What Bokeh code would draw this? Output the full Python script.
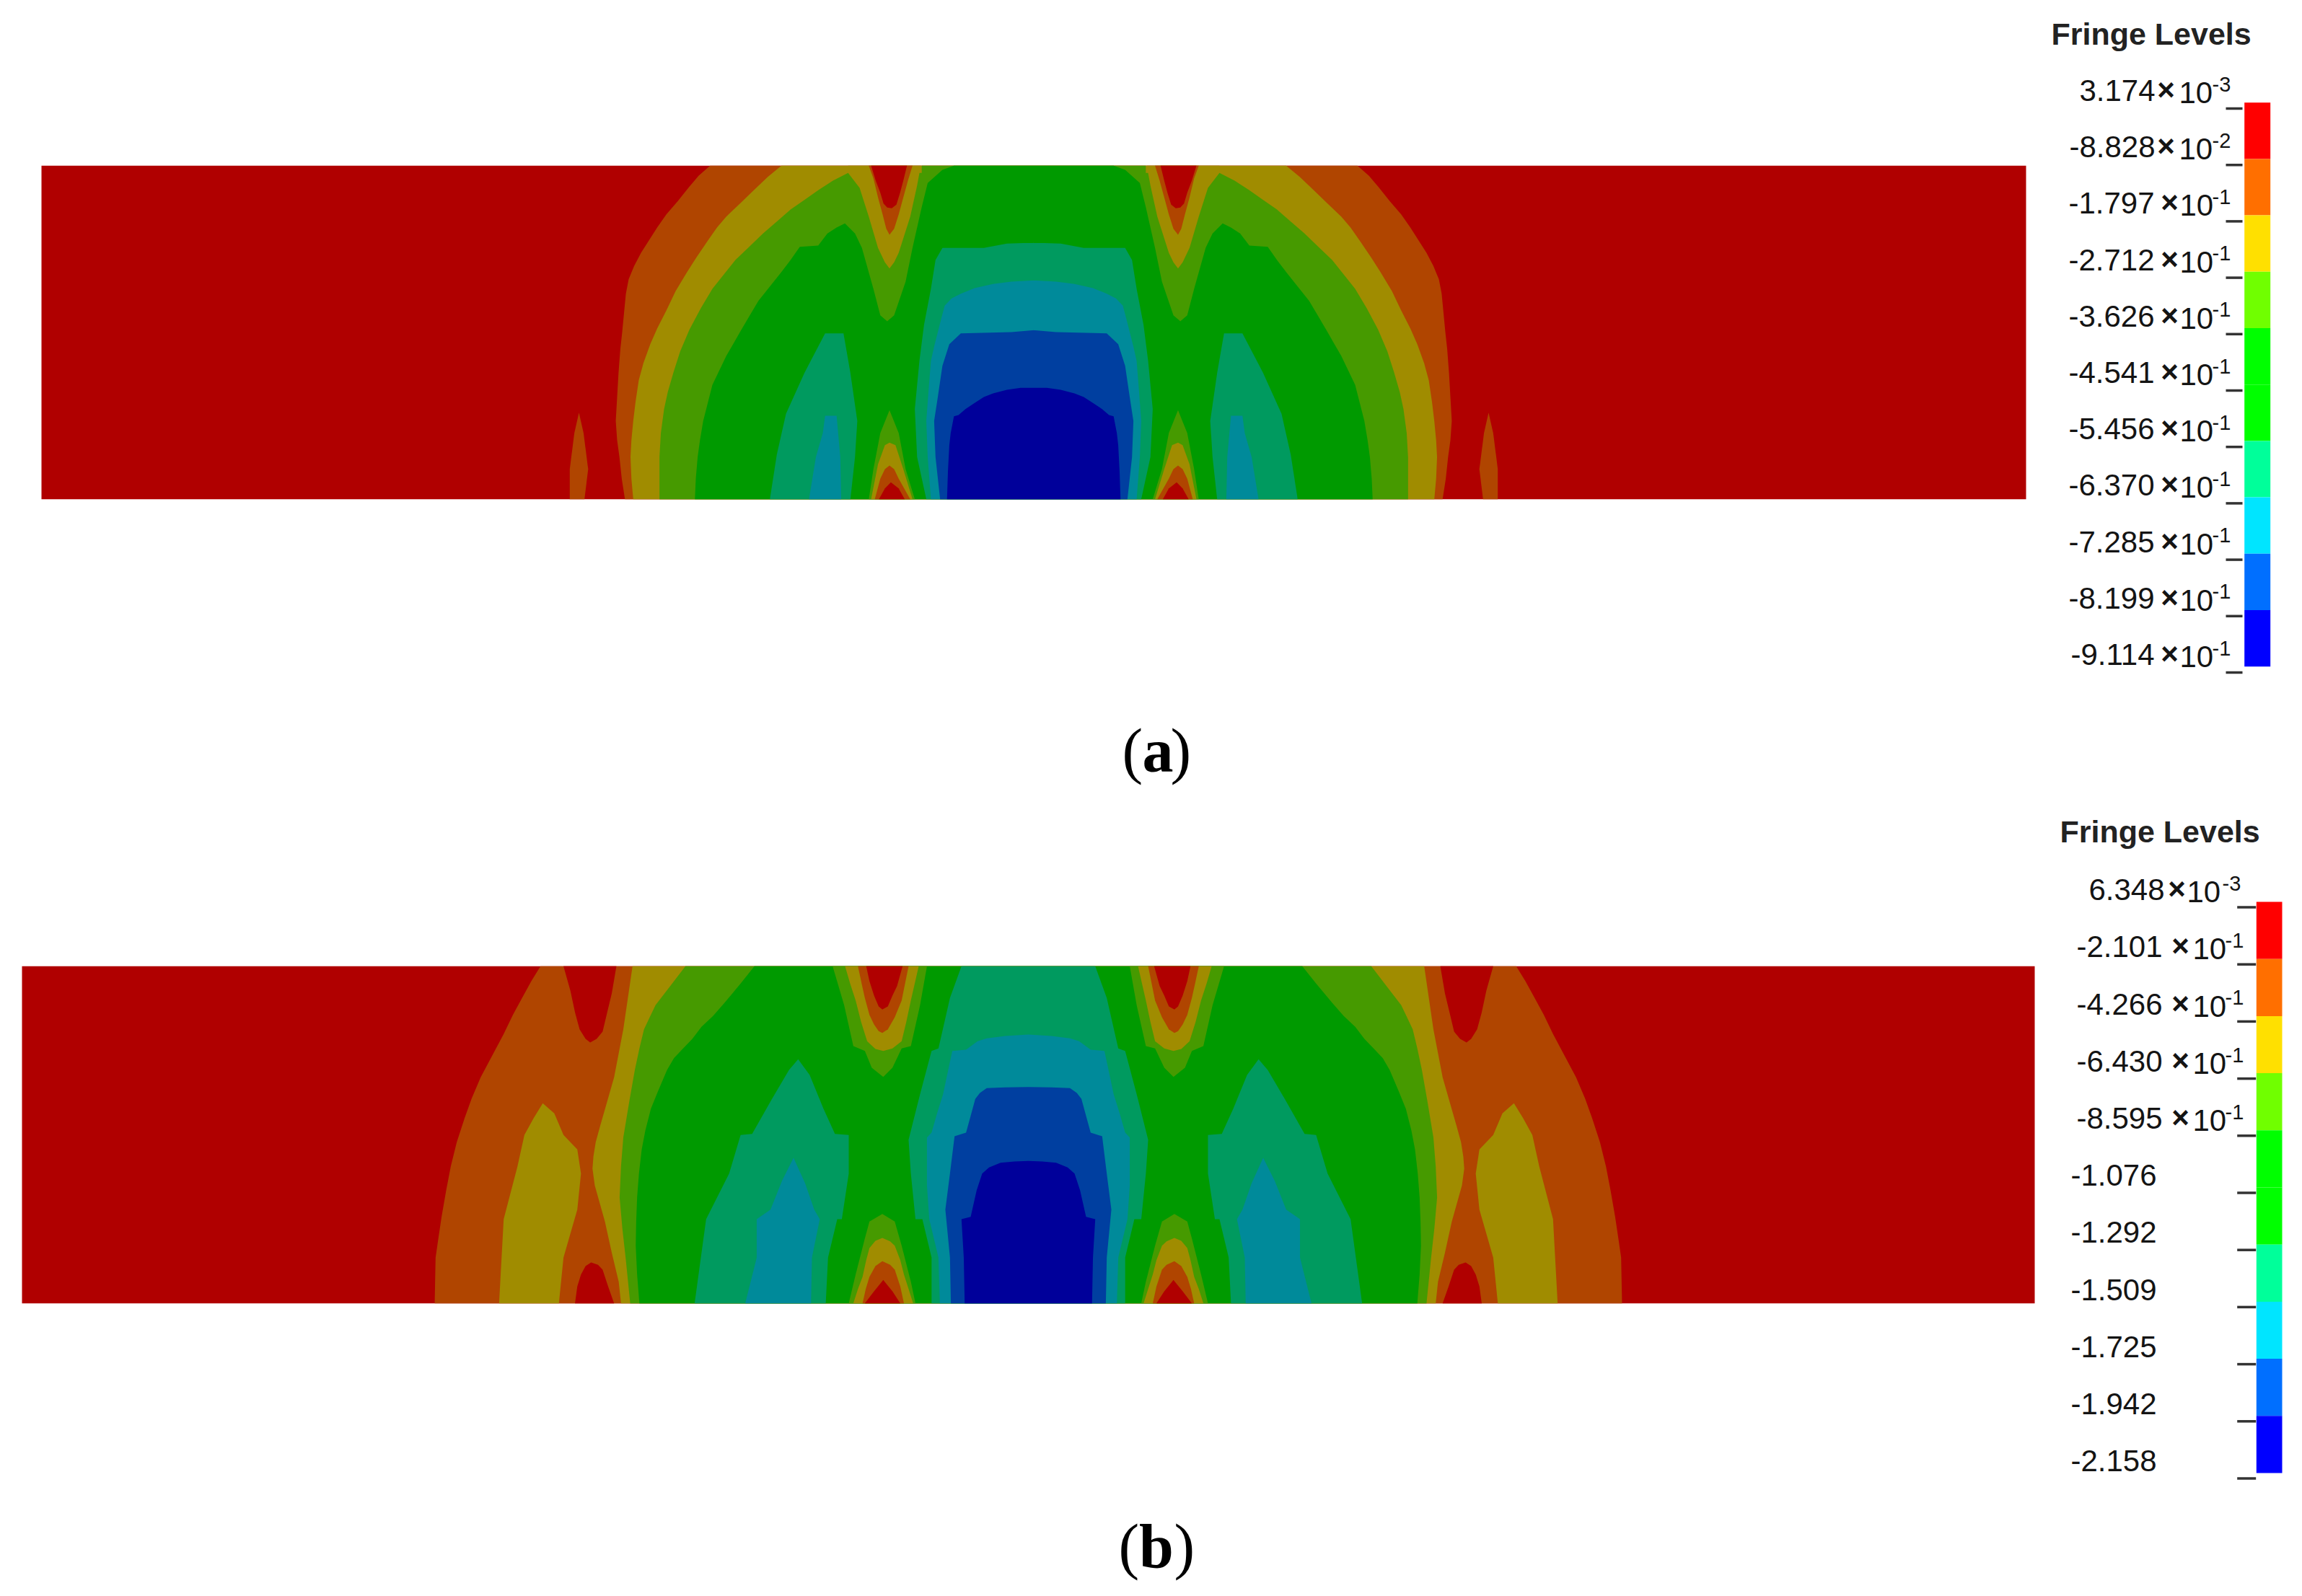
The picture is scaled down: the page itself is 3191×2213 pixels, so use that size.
from bokeh.plotting import figure
from bokeh.embed import file_html
from bokeh.resources import INLINE
from bokeh.core.properties import value

# ---- legend data -------------------------------------------------------
a_title = "Fringe Levels"
a_mantissa = ["3.174", "-8.828", "-1.797", "-2.712", "-3.626", "-4.541", "-5.456", "-6.370", "-7.285", "-8.199", "-9.114"]
a_exponent = ["-3", "-2", "-1", "-1", "-1", "-1", "-1", "-1", "-1", "-1", "-1"]
b_mantissa = ["6.348", "-2.101", "-4.266", "-6.430", "-8.595", "-1.076", "-1.292", "-1.509", "-1.725", "-1.942", "-2.158"]
b_exponent = ["-3", "-1", "-1", "-1", "-1", "", "", "", "", "", ""]
bar_colours = ["#FF0000", "#FF6F00", "#FFE000", "#70FF00", "#00FF00", "#00FF00", "#00FF9A", "#00E5FF", "#006FFF", "#0000FF"]

# ---- fringe colours in the plot ----------------------------------------
RED, ORANGE, YELLOW, LGREEN = "#B00000", "#B04500", "#A08C00", "#469A00"
GREEN, TEAL, CYAN, BLUE, DBLUE = "#009A00", "#009A5F", "#008A9A", "#003FA0", "#00009A"

# ---- panel (a) contours (left half) -------------------------------------
a_orange = [(445,88),(420,130),(400,175),(375,235),(350,290),(330,345),(315,390),(295,450),(280,505),(268,560),(262,620),(258,700),(254,780),(250,850),(246,950),(243,1050),(240,1150),(243,1230),(248,1300),(253,1390),(260,1475)]
a_yellow = [(600,88),(570,135),(540,190),(510,245),(480,300),(460,345),(440,400),(415,470),(395,530),(370,610),(350,690),(330,765),(315,830),(300,910),(290,980),(283,1070),(278,1150),(274,1230),(272,1300),(274,1390),(278,1475)]
a_lgreen = [(905,88),(905,118),(745,118),(712,150),(680,190),(650,230),(620,270),(590,320),(560,370),(530,425),(500,480),(475,540),(450,600),(425,680),(400,770),(380,860),(365,950),(353,1030),(345,1100),(338,1200),(335,1300),(335,1475)]
a_green = [(975,88),(950,105),(918,160),(905,260),(885,430),(870,570),(845,710),(830,735),(815,710),(800,600),(775,430),(760,370),(738,328),(720,345),(700,370),(680,420),(640,425),(620,480),(600,530),(575,590),(550,650),(530,715),(510,780),(495,830),(480,880),(465,940),(450,1000),(440,1075),(430,1150),(423,1230),(418,1300),(414,1390),(412,1475)]
a_teal = [(1150,408),(1090,412),(1040,430),(950,430),(935,480),(925,600),(910,750),(900,900),(890,1100),(895,1300),(915,1475)]
a_cyan = [(1150,565),(1100,570),(1060,580),(1020,597),(990,620),(970,640),(955,670),(948,720),(940,780),(932,840),(925,900),(920,1020),(915,1150),(918,1300),(925,1475)]
a_blue = [(1150,772),(1100,780),(990,785),(965,830),(950,920),(940,1050),(932,1150),(935,1300),(945,1475)]
a_dblue = [(1150,1012),(1120,1012),(1090,1020),(1060,1035),(1040,1050),(1020,1075),(1000,1100),(985,1125),(975,1130),(968,1200),(965,1250),(962,1360),(960,1475)]
a_sliver = [(140,1475),(140,1350),(150,1200),(160,1115),(170,1200),(180,1350),(172,1475)]
a_notch_yellow = [(745,118),(770,180),(790,300),(810,430),(825,490),(835,515),(845,490),(855,450),(880,300),(895,170),(903,88),(745,88)]
a_notch_orange = [(790,88),(800,140),(810,220),(820,290),(828,350),(835,375),(845,350),(855,290),(865,220),(875,150),(885,88)]
a_notch_red = [(795,88),(805,150),(815,200),(822,245),(830,262),(840,265),(850,250),(858,200),(865,150),(873,88)]
a_side_teal = [(575,1475),(590,1290),(610,1120),(650,950),(695,785),(735,785),(750,950),(765,1150),(760,1300),(750,1475)]
a_side_cyan = [(660,1475),(675,1300),(690,1200),(695,1128),(720,1128),(728,1300),(730,1475)]
a_peak_lgreen = [(790,1475),(800,1350),(815,1200),(835,1105),(855,1200),(870,1350),(890,1475)]
a_peak_yellow = [(795,1475),(810,1330),(825,1250),(835,1240),(848,1250),(865,1350),(885,1475)]
a_peak_orange = [(803,1475),(815,1390),(825,1350),(835,1335),(845,1350),(855,1390),(880,1475)]
a_peak_red = [(812,1475),(825,1430),(838,1405),(855,1430),(868,1475)]

# ---- panel (b) contours (left half) -------------------------------------
b_orange = [(390,88),(370,150),(350,220),(330,290),(310,370),(285,460),(260,550),(240,640),(225,720),(208,820),(195,920),(185,1020),(175,1130),(168,1220),(162,1300),(160,1490)]
b_yellow = [(590,88),(583,180),(570,350),(560,450),(550,550),(535,650),(520,750),(510,820),(505,880),(503,930),(508,1000),(530,1150),(545,1280),(560,1400),(565,1490)]
b_lgreen = [(705,88),(672,170),(640,250),(625,310),(615,350),(605,430),(595,520),(583,650),(570,800),(565,920),(562,1050),(568,1180),(575,1300),(585,1490)]
b_green = [(855,88),(825,160),(790,240),(765,295),(740,340),(720,390),(700,430),(680,470),(665,520),(645,610),(630,680),(618,770),(610,850),(604,950),(600,1050),(598,1150),(597,1250),(600,1370),(605,1490)]
b_teal = [(1305,88),(1280,220),(1255,430),(1240,440),(1215,620),(1190,810),(1195,950),(1205,1140),(1220,1140),(1240,1300),(1240,1490)]
b_cyan = [(1450,372),(1400,378),(1360,388),(1340,400),(1315,435),(1285,440),(1275,530),(1265,620),(1252,700),(1240,780),(1230,800),(1230,1000),(1235,1140),(1255,1300),(1258,1490)]
b_blue = [(1450,590),(1400,592),(1360,595),(1345,615),(1335,640),(1325,710),(1315,780),(1290,795),(1280,950),(1270,1100),(1280,1300),(1282,1490)]
b_dblue = [(1450,898),(1420,900),(1390,905),(1365,925),(1350,950),(1338,1020),(1325,1130),(1305,1140),(1310,1300),(1312,1490)]
b_outer_notch = [(440,88),(455,190),(465,280),(475,350),(488,390),(498,405),(512,390),(525,360),(535,280),(545,200),(555,88)]
b_outer_peak = [(465,1490),(470,1420),(478,1370),(488,1335),(500,1320),(515,1330),(525,1350),(537,1420),(550,1490)]
b_lobe = [(300,1490),(310,1140),(340,920),(355,790),(375,720),(395,658),(420,700),(440,790),(470,850),(478,950),(470,1100),(440,1300),(430,1490)]
b_side_teal = [(725,1490),(750,1140),(800,950),(825,790),(850,785),(890,650),(930,520),(950,475),(975,540),(1005,680),(1030,785),(1060,790),(1060,950),(1045,1140),(1035,1140),(1015,1300),(1010,1490)]
b_side_cyan = [(835,1490),(860,1300),(860,1140),(890,1100),(915,980),(940,885),(965,990),(985,1100),(997,1140),(980,1300),(978,1490)]
b_notch_lgreen = [(1025,88),(1050,250),(1070,420),(1095,440),(1110,510),(1135,548),(1155,510),(1175,430),(1195,420),(1215,250),(1230,88)]
b_notch_yellow = [(1052,88),(1063,160),(1075,230),(1087,320),(1100,400),(1118,432),(1135,440),(1155,430),(1175,400),(1185,320),(1195,230),(1212,88)]
b_notch_orange = [(1080,88),(1088,160),(1095,220),(1105,290),(1115,330),(1125,358),(1133,365),(1145,350),(1160,300),(1175,230),(1190,88)]
b_notch_red = [(1098,88),(1105,150),(1115,210),(1125,255),(1133,268),(1145,255),(1155,210),(1165,170),(1177,88)]
b_peak_lgreen = [(1060,1490),(1075,1370),(1095,1220),(1105,1150),(1133,1118),(1160,1150),(1175,1250),(1195,1400),(1205,1490)]
b_peak_yellow = [(1070,1490),(1080,1430),(1090,1380),(1098,1310),(1105,1260),(1118,1230),(1133,1218),(1150,1232),(1160,1250),(1172,1310),(1180,1370),(1200,1490)]
b_peak_orange = [(1090,1490),(1097,1430),(1105,1380),(1118,1335),(1133,1315),(1150,1330),(1160,1350),(1172,1420),(1180,1490)]
b_peak_red = [(1095,1490),(1115,1440),(1135,1393),(1155,1440),(1172,1490)]

p = figure(width=3175, height=2197, x_range=(0, 3175), y_range=(2197, 0),
           output_backend="svg", toolbar_location=None, min_border=0,
           background_fill_color="white", border_fill_color="white", outline_line_color=None)
p.axis.visible = False
p.grid.visible = False


def draw_panel(x0, y0, ox, oy, xscale, centre, layers):
    fx = lambda zx: ox + zx / xscale
    fy = lambda zy: oy + zy / 3
    p.quad(left=[x0[0]], right=[x0[1]], top=[y0[0]], bottom=[y0[1]], fill_color=RED, line_color=None)
    for pts, kind, colour in layers:
        xs = [fx(q[0]) for q in pts]
        ys = [fy(q[1]) for q in pts]
        mx = [2 * centre - v for v in xs]
        if kind == "centred":
            p.patch(xs + mx[::-1], ys + ys[::-1], fill_color=colour, line_color=None)
        else:
            p.patch(xs, ys, fill_color=colour, line_color=None)
            p.patch(mx, ys, fill_color=colour, line_color=None)


draw_panel((57, 2808), (229.3, 691.7), 700, 200, 1.568, 1432.5, [
    (a_sliver, "side", ORANGE), (a_orange, "centred", ORANGE), (a_yellow, "centred", YELLOW),
    (a_lgreen, "centred", LGREEN), (a_green, "centred", GREEN),
    (a_notch_yellow, "side", YELLOW), (a_notch_orange, "side", ORANGE), (a_notch_red, "side", RED),
    (a_side_teal, "side", TEAL), (a_side_cyan, "side", CYAN),
    (a_peak_lgreen, "side", LGREEN), (a_peak_yellow, "side", YELLOW),
    (a_peak_orange, "side", ORANGE), (a_peak_red, "side", RED),
    (a_teal, "centred", TEAL), (a_cyan, "centred", CYAN), (a_blue, "centred", BLUE), (a_dblue, "centred", DBLUE),
])
draw_panel((30, 2820), (1339.3, 1806.7), 500, 1310, 1.568, 1425, [
    (b_orange, "centred", ORANGE), (b_outer_notch, "side", RED), (b_outer_peak, "side", RED),
    (b_lobe, "side", YELLOW), (b_yellow, "centred", YELLOW),
    (b_lgreen, "centred", LGREEN), (b_green, "centred", GREEN),
    (b_side_teal, "side", TEAL), (b_side_cyan, "side", CYAN),
    (b_notch_lgreen, "side", LGREEN), (b_notch_yellow, "side", YELLOW),
    (b_notch_orange, "side", ORANGE), (b_notch_red, "side", RED),
    (b_peak_lgreen, "side", LGREEN), (b_peak_yellow, "side", YELLOW),
    (b_peak_orange, "side", ORANGE), (b_peak_red, "side", RED),
    (b_teal, "centred", TEAL), (b_cyan, "centred", CYAN), (b_blue, "centred", BLUE), (b_dblue, "centred", DBLUE),
])

SANS_DY, SERIF_DY = 0.40, 0.31


def txt(x, y, s, size, align="left", style="normal", font="Liberation Sans", colour="#141414"):
    dy = (SERIF_DY if "Serif" in font else SANS_DY) * size
    p.text([x], [y - dy], text=[s], text_font=value(font), text_font_size=value(f"{size}px"),
           text_font_style=style, text_align=align, text_baseline="alphabetic", text_color=colour)


def draw_legend(title_x, title_y, bar_x, y_top, step, tick_x, tick_dy, num_x, times_x, ten_x, sup_x,
                plain_x, mantissa, exponent, first_rows):
    txt(title_x, title_y, a_title, 43, style="bold", colour="#222222")
    for i, c in enumerate(bar_colours):
        p.quad(left=[bar_x[0]], right=[bar_x[1]], top=[y_top + i * step], bottom=[y_top + (i + 1) * step],
               fill_color=c, line_color=None)
    for i in range(len(mantissa)):
        base = y_top + i * step
        tick_y = base + tick_dy
        p.segment([tick_x[0]], [tick_y], [tick_x[1]], [tick_y], line_color="#333333", line_width=3.5)
        if exponent[i]:
            k = 0 if i < first_rows else 1
            txt(num_x[k], base, mantissa[i], 42, align="right")
            txt(times_x[k], base - 1, "×", 42, align="center", style="bold")
            txt(ten_x[k], base + 3, "10", 42)
            txt(sup_x[k], base - 14, exponent[i], 29)
        else:
            txt(plain_x, base, mantissa[i], 42, align="right")


draw_legend(2843, 63.5, (3110.7, 3146.7), 141.7, 78.2, (3085, 3108), 8.3,
            (2987, 2986), (3002, 3007), (3020, 3021), (3066, 3066), 2986, a_mantissa, a_exponent, 2)
draw_legend(2855, 1170, (3127.3, 3163), 1250, 79.2, (3100.7, 3126.7), 7.5,
            (3000, 2997), (3017, 3022), (3031, 3039), (3080, 3084), 2989, b_mantissa, b_exponent, 1)


def caption(baseline, letter, open_x, letter_x, close_x):
    txt(open_x, baseline, "(", 86, font="Liberation Serif", colour="black")
    txt(letter_x, baseline, letter, 86, style="bold", font="Liberation Serif", colour="black")
    txt(close_x, baseline, ")", 86, font="Liberation Serif", colour="black")


caption(1067, "a", 1555, 1583, 1622)
caption(2170, "b", 1550, 1578.5, 1627)

open("out.html", "w").write(file_html(p, INLINE))
